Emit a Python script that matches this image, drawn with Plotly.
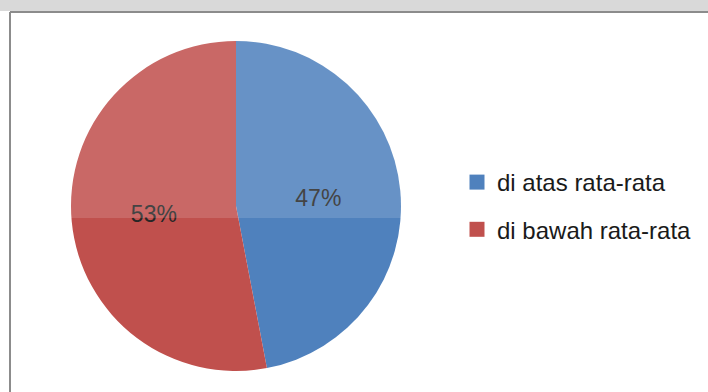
import plotly.graph_objects as go

labels = ["di atas rata-rata", "di bawah rata-rata"]
values = [47, 53]
colors = ["#4F81BD", "#C0504D"]

W, H = 708, 392

fig = go.Figure()
fig.add_trace(go.Pie(
    labels=labels, values=values, sort=False, direction="clockwise", rotation=0,
    marker=dict(colors=colors, line=dict(width=0)),
    textinfo="percent", textposition="inside", insidetextorientation="horizontal",
    textfont=dict(family="Liberation Sans, Arial", size=23, color="#262626"),
    domain=dict(x=[71 / W, 401 / W], y=[1 - 371 / H, 1 - 41 / H]),
    showlegend=False, hoverinfo="label+percent",
))
for lab, col in zip(labels, colors):
    fig.add_trace(go.Scatter(
        x=[None], y=[None], mode="markers", name=lab, legendgroup=lab,
        marker=dict(symbol="square", size=15, color=col),
    ))

fig.update_layout(
    width=W, height=H, margin=dict(l=0, r=0, t=0, b=0),
    paper_bgcolor="white", plot_bgcolor="white",
    xaxis=dict(visible=False), yaxis=dict(visible=False),
    legend=dict(x=457 / W, y=1 - 206 / H, xanchor="left", yanchor="middle",
                font=dict(family="Liberation Sans, Arial", size=24, color="#1a1a1a"),
                tracegroupgap=13, itemwidth=30, bgcolor="rgba(0,0,0,0)"),
    shapes=[
        dict(type="rect", xref="paper", yref="paper", x0=0, x1=1, y0=1 - 11 / H, y1=1,
             fillcolor="#d9d9d9", line=dict(width=0), layer="below"),
        dict(type="rect", xref="paper", yref="paper", x0=0, x1=1, y0=1 - 218 / H, y1=1 - 13 / H,
             fillcolor="rgba(255,255,255,0.14)", line=dict(width=0), layer="above"),
        dict(type="line", xref="paper", yref="paper", x0=10 / W, x1=1, y0=1 - 12 / H, y1=1 - 12 / H,
             line=dict(color="#8c8c8c", width=2)),
        dict(type="line", xref="paper", yref="paper", x0=10 / W, x1=10 / W, y0=0, y1=1 - 12 / H,
             line=dict(color="#8c8c8c", width=2)),
    ],
)

fig.write_html("out.html", config={"displayModeBar": False},
               post_script="document.body.style.margin='0';")
